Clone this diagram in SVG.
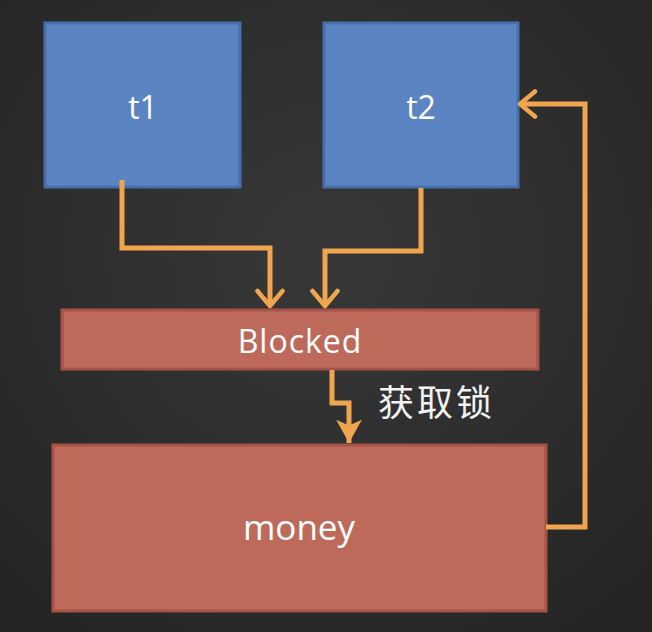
<svg xmlns="http://www.w3.org/2000/svg" width="652" height="632" viewBox="0 0 652 632">
<defs>
<radialGradient id="bg" cx="50%" cy="40%" r="75%">
<stop offset="0" stop-color="#383838"/>
<stop offset="1" stop-color="#242424"/>
</radialGradient>
<marker id="chev" viewBox="0 0 12 12" refX="10" refY="6" markerWidth="6" markerHeight="6" markerUnits="strokeWidth" orient="auto">
<path d="M4,1 L10,6 L4,11" fill="none" stroke="#f0a64e" stroke-width="1.8" stroke-linecap="round" stroke-linejoin="round"/>
</marker>
<marker id="tri" viewBox="0 0 12 12" refX="11" refY="6" markerWidth="5.6" markerHeight="5.6" markerUnits="strokeWidth" orient="auto">
<path d="M1,0.5 L11,6 L1,11.5 L3.5,6 Z" fill="#f0a64e"/>
</marker>
</defs>
<style>
.blue{fill:#5b85c2;stroke:#4670ad;stroke-width:3}
.red{fill:#be6a5b;stroke:#a65246;stroke-width:3}
.lbl{font-family:"Open Sans","Liberation Sans",sans-serif;fill:#ffffff;text-anchor:middle}
.cn{font-family:"Noto Sans CJK SC",sans-serif;fill:#f2f2f2;font-size:36px;letter-spacing:3px}
.con{fill:none;stroke:#f0a64e;stroke-width:5;stroke-linejoin:miter}
</style>
<rect width="652" height="632" fill="url(#bg)"/>
<g id="t1">
<rect class="blue" x="45" y="23" width="195" height="164"/>
<text class="lbl" x="143" y="119" font-size="32">t1</text>
</g>
<g id="t2">
<rect class="blue" x="324" y="23" width="194" height="164"/>
<text class="lbl" x="421" y="119" font-size="32">t2</text>
</g>
<g id="blocked">
<rect class="red" x="62" y="310" width="476" height="59"/>
<text class="lbl" x="300" y="353" font-size="32" letter-spacing="1">Blocked</text>
</g>
<g id="money">
<rect class="red" x="53" y="445" width="493" height="166"/>
<text class="lbl" x="299" y="540" font-size="35">money</text>
</g>
<g id="connectors">
<path class="con" d="M122,180 V248 H270 V306" marker-end="url(#chev)"/>
<path class="con" d="M421,188 V251 H325 V306" marker-end="url(#chev)"/>
<path class="con" d="M332,370 V403 H349 V443" marker-end="url(#tri)"/>
<path class="con" d="M546,527 H585 V104 H520" marker-end="url(#chev)"/>
<text class="cn" x="378" y="416">获取锁</text>
</g>
</svg>
